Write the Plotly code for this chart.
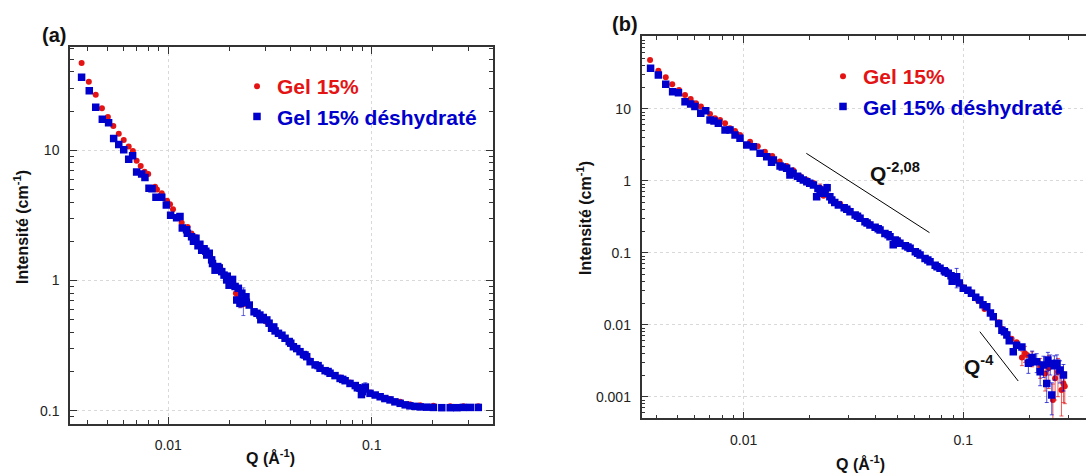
import plotly.graph_objects as go

# ---------------- data : panel (a) ----------------
a_red_q = [0.00375, 0.00407, 0.00440, 0.00472, 0.00505, 0.00537, 0.00571, 0.00604, 0.00639, 0.00670,
           0.00699, 0.00732, 0.00765, 0.00797, 0.00861, 0.0088, 0.00929, 0.00986, 0.0102, 0.01055,
           0.0111, 0.01164, 0.01245, 0.0130, 0.0137, 0.0146, 0.0155, 0.0163, 0.0172, 0.0183,
           0.0194, 0.0205, 0.0215, 0.0221, 0.0228, 0.0236, 0.0250, 0.0264, 0.0282, 0.0305,
           0.0322, 0.0348, 0.0375, 0.0412, 0.0444, 0.0479, 0.0498, 0.0557, 0.0624, 0.0699,
           0.0782, 0.0876, 0.0981, 0.110, 0.123, 0.138, 0.154, 0.173, 0.201, 0.243, 0.282, 0.334]
a_red_i = [46.8, 33.6, 26.7, 21.0, 18.0, 15.4, 13.4, 12.0, 10.7, 9.88,
           8.32, 7.57, 6.85, 6.58, 5.25, 5.0, 4.68, 4.10, 3.85, 3.52,
           3.1, 2.78, 2.58, 2.3, 2.15, 1.78, 1.62, 1.47, 1.30, 1.20,
           1.04, 0.96, 0.80, 0.74, 0.70, 0.66, 0.65, 0.57, 0.52, 0.48,
           0.43, 0.39, 0.36, 0.315, 0.287, 0.262, 0.243, 0.215, 0.197, 0.180,
           0.165, 0.151, 0.138, 0.130, 0.123, 0.117, 0.112, 0.110, 0.109, 0.108, 0.108, 0.108]

a_blue_q = [0.00375, 0.00409, 0.00440, 0.00474, 0.00509, 0.00539, 0.00571, 0.00604, 0.00639, 0.00668,
            0.00699, 0.00740, 0.00768, 0.00804, 0.00832, 0.00870, 0.00929, 0.00978, 0.01027, 0.01099,
            0.01142, 0.01172, 0.01241, 0.01302, 0.01368, 0.0140, 0.0146, 0.0150, 0.01545, 0.0159,
            0.01634, 0.01698, 0.0175, 0.01832, 0.0188, 0.01937, 0.0201, 0.0207, 0.0213, 0.0217,
            0.0221, 0.0225, 0.0230, 0.0234, 0.0241, 0.0250, 0.0264, 0.0273, 0.0282, 0.0293,
            0.0305, 0.0313, 0.0322, 0.0335, 0.0348, 0.0362, 0.0375, 0.0393, 0.0412, 0.0428,
            0.0444, 0.0462, 0.0479, 0.0498, 0.0527, 0.0557, 0.0590, 0.0624, 0.0660, 0.0699,
            0.0740, 0.0782, 0.0830, 0.0876, 0.0900, 0.0930, 0.0981, 0.104, 0.110, 0.116,
            0.123, 0.130, 0.138, 0.146, 0.154, 0.163, 0.173, 0.186, 0.201, 0.221,
            0.243, 0.262, 0.282, 0.305, 0.334,
            0.0123, 0.0133, 0.0143, 0.0153, 0.0165, 0.0178, 0.0195, 0.0199, 0.0242, 0.0285,
            0.0330, 0.0400, 0.0470, 0.0545, 0.0610, 0.0720, 0.0850, 0.0910, 0.0890]
a_blue_i = [36.4, 28.7, 21.4, 17.3, 16.3, 12.3, 11.1, 10.1, 8.53, 9.10,
            6.81, 6.58, 6.17, 5.11, 5.07, 4.36, 4.36, 3.80, 3.17, 3.03,
            3.10, 2.53, 2.31, 2.17, 2.11, 1.85, 1.71, 1.75, 1.57, 1.62,
            1.44, 1.20, 1.28, 1.17, 1.10, 1.01, 0.953, 1.02, 0.90, 0.708,
            0.871, 0.668, 0.80, 0.708, 0.75, 0.648, 0.575, 0.56, 0.543, 0.52,
            0.498, 0.47, 0.430, 0.41, 0.393, 0.38, 0.360, 0.34, 0.310, 0.30,
            0.284, 0.27, 0.260, 0.238, 0.225, 0.212, 0.203, 0.194, 0.186, 0.177,
            0.170, 0.162, 0.156, 0.149, 0.140, 0.152, 0.136, 0.132, 0.128, 0.124,
            0.121, 0.117, 0.114, 0.111, 0.109, 0.108, 0.107, 0.1065, 0.106, 0.1055,
            0.1055, 0.1055, 0.106, 0.106, 0.106,
            2.45, 2.0, 1.9, 1.68, 1.35, 1.25, 1.08, 0.92, 0.68, 0.50,
            0.44, 0.33, 0.268, 0.222, 0.200, 0.174, 0.150, 0.147, 0.133]

a_red_err = {0.0215: 0.05, 0.0228: 0.08}
a_blue_err = {0.0225: 0.05, 0.0234: 0.17, 0.0930: 0.012}

# ---------------- data : panel (b) ----------------
b_red_q = [0.00375, 0.00409, 0.00442, 0.00473, 0.00508, 0.00541, 0.00574, 0.00607, 0.00639, 0.00674,
           0.00703, 0.00741, 0.00781, 0.00823, 0.00867, 0.00914, 0.00963, 0.0107, 0.0116, 0.0125,
           0.0135, 0.0146, 0.0157, 0.0168, 0.0181, 0.0194, 0.0208, 0.0223, 0.0231, 0.0247,
           0.0275, 0.0305, 0.0339, 0.0376, 0.0418, 0.0464, 0.0515, 0.0573, 0.0636, 0.0706,
           0.0784, 0.0855, 0.0933, 0.100, 0.109, 0.117, 0.125, 0.137, 0.145, 0.150,
           0.158, 0.166, 0.175, 0.185, 0.191, 0.195, 0.206, 0.216, 0.224, 0.236,
           0.245, 0.256, 0.262, 0.270, 0.280, 0.286, 0.290]
b_red_i = [47.4, 33.7, 27.3, 21.8, 18.2, 15.5, 13.6, 11.9, 10.7, 9.38,
           8.44, 7.36, 6.97, 6.27, 5.35, 4.90, 4.31, 3.48, 3.0, 2.53,
           2.2, 1.85, 1.6, 1.4, 1.15, 1.02, 0.93, 0.80, 0.62, 0.62,
           0.48, 0.385, 0.31, 0.25, 0.212, 0.172, 0.140, 0.118, 0.095, 0.077,
           0.062, 0.053, 0.047, 0.033, 0.028, 0.0215, 0.0165, 0.0133, 0.0108, 0.0088,
           0.0075, 0.0064, 0.0057, 0.0035, 0.0040, 0.0038, 0.0034, 0.0030, 0.0026, 0.0021,
           0.0025, 0.00090, 0.0018, 0.0022, 0.00124, 0.00153, 0.0014]

b_blue_q = [0.00377, 0.00409, 0.00442, 0.00475, 0.00505, 0.00541, 0.00574, 0.00600, 0.00638, 0.00672,
            0.00703, 0.00733, 0.00767, 0.00823, 0.00867, 0.00914, 0.00963, 0.01033, 0.01107, 0.01188,
            0.01274, 0.01366, 0.01465, 0.0157, 0.01625, 0.0168, 0.0181, 0.0187, 0.0194, 0.0208,
            0.0215, 0.0223, 0.0231, 0.0240, 0.0247, 0.0252, 0.0270, 0.0287, 0.0305, 0.0322,
            0.0339, 0.0357, 0.0376, 0.0397, 0.0418, 0.0440, 0.0464, 0.0480, 0.0490, 0.0515,
            0.0545, 0.0573, 0.0605, 0.0636, 0.0670, 0.0706, 0.0745, 0.0784, 0.0820, 0.0855,
            0.0880, 0.0901, 0.0933, 0.0960, 0.100, 0.105, 0.109, 0.114, 0.119, 0.123,
            0.128, 0.133, 0.137, 0.145, 0.150, 0.154, 0.158, 0.162, 0.169, 0.175,
            0.185, 0.198, 0.201, 0.206, 0.216, 0.224, 0.232, 0.240, 0.243, 0.249,
            0.253, 0.260, 0.267, 0.276, 0.286,
            0.0134, 0.0150, 0.0163, 0.0176, 0.0200, 0.0218, 0.0235, 0.0260, 0.0295, 0.0330,
            0.0365, 0.0410, 0.0455, 0.0500, 0.0560, 0.0620, 0.0690, 0.0760, 0.0830, 0.0915, 0.0890]
b_blue_i = [36.4, 29.4, 21.8, 17.2, 16.7, 12.5, 11.6, 10.7, 8.63, 9.38,
            6.97, 6.74, 6.27, 5.06, 5.06, 4.31, 3.88, 3.13, 2.97, 2.40,
            2.15, 1.94, 1.60, 1.49, 1.20, 1.27, 1.08, 1.02, 0.968, 0.871,
            0.600, 0.743, 0.668, 0.80, 0.600, 0.540, 0.459, 0.42, 0.371, 0.335,
            0.301, 0.27, 0.243, 0.225, 0.207, 0.185, 0.167, 0.129, 0.150, 0.135,
            0.125, 0.115, 0.103, 0.0929, 0.083, 0.0750, 0.067, 0.0607, 0.056, 0.0517,
            0.048, 0.0418, 0.0465, 0.038, 0.0321, 0.030, 0.0273, 0.024, 0.0220, 0.019,
            0.0178, 0.0145, 0.0129, 0.0104, 0.0084, 0.0080, 0.0072, 0.0060, 0.00421, 0.0052,
            0.0049, 0.00291, 0.0030, 0.0035, 0.00306, 0.00222, 0.00275, 0.00153, 0.00323, 0.0029,
            0.00106, 0.0027, 0.00291, 0.00235, 0.00200,
            1.8, 1.55, 1.35, 1.15, 0.92, 0.78, 0.72, 0.50, 0.40, 0.32,
            0.258, 0.215, 0.178, 0.145, 0.120, 0.098, 0.079, 0.064, 0.054, 0.044, 0.040]

b_red_err = {0.0223: 0.1, 0.185: 0.0008, 0.191: 0.001, 0.206: 0.0008, 0.224: 0.0008, 0.236: 0.0009,
             0.245: 0.0012, 0.256: 0.0006, 0.262: 0.0009, 0.270: 0.0012, 0.280: 0.0007, 0.286: 0.0007,
             0.290: 0.0006}
b_blue_err = {0.0240: 0.09, 0.0933: 0.014, 0.198: 0.0008, 0.206: 0.0008, 0.216: 0.0009, 0.224: 0.0008,
              0.232: 0.0009, 0.240: 0.0007, 0.243: 0.0009, 0.249: 0.0009, 0.253: 0.0005, 0.260: 0.0010,
              0.267: 0.0009, 0.276: 0.0008, 0.286: 0.0008}

# slope guide lines (panel b)
slope1_q = [0.0193, 0.0702]
slope1_i = [2.40, 0.190]
slope2_q = [0.119, 0.178]
slope2_i = [0.0080, 0.00165]

x_tick_vals = [0.01, 0.1]
x_tick_text = ["0.01", "0.1"]
a_y_tick_vals = [0.1, 1, 10]
a_y_tick_text = ["0.1", "1", "10"]
b_y_tick_vals = [0.001, 0.01, 0.1, 1, 10]
b_y_tick_text = ["0.001", "0.01", "0.1", "1", "10"]

RED = "#e41414"
BLUE = "#0000cc"
FONT = "Liberation Sans, Arial, sans-serif"
W, H = 1086, 473


def err_list(qs, errs):
    return [errs.get(q, 0) for q in qs]


def minor_vals(lo_exp, hi_exp):
    vals = []
    for e in range(lo_exp, hi_exp + 1):
        for m in range(2, 10):
            vals.append(m * 10 ** e)
    return vals


def add_series(q, i, errs, color, symbol, size, name, xa, ya, leg, ecolor):
    fig.add_trace(go.Scatter(
        x=q, y=i, mode="markers", name=name, xaxis=xa, yaxis=ya, legend=leg,
        marker=dict(color=color, symbol=symbol, size=size, line=dict(width=0)),
        error_y=dict(type="data", array=err_list(q, errs), visible=True,
                     color=ecolor, thickness=1, width=2),
    ))


fig = go.Figure()
red_name = "<b><span style='color:%s'>Gel 15%%</span></b>" % RED
blue_name = "<b><span style='color:%s'>Gel 15%% déshydraté</span></b>" % BLUE
add_series(a_red_q, a_red_i, a_red_err, RED, "circle", 6, red_name, "x", "y", "legend", "rgba(228,20,20,0.6)")
add_series(a_blue_q, a_blue_i, a_blue_err, BLUE, "square", 7.5, blue_name, "x", "y", "legend", "rgba(0,0,204,0.6)")
add_series(b_red_q, b_red_i, b_red_err, RED, "circle", 6, red_name, "x2", "y2", "legend2", "rgba(228,20,20,0.7)")
add_series(b_blue_q, b_blue_i, b_blue_err, BLUE, "square", 7.5, blue_name, "x2", "y2", "legend2", "rgba(0,0,204,0.7)")

for sq, si in [(slope1_q, slope1_i), (slope2_q, slope2_i)]:
    fig.add_trace(go.Scatter(x=sq, y=si, mode="lines", xaxis="x2", yaxis="y2",
                             line=dict(color="black", width=1), showlegend=False, hoverinfo="skip"))

LINE = "#333333"
common = dict(type="log", showline=True, linecolor=LINE, linewidth=1.5,
              ticks="inside", ticklen=7, tickwidth=1, tickcolor=LINE,
              showgrid=True, gridcolor="#d9d9d9", griddash="dot", gridwidth=1,
              zeroline=False, tickmode="array",
              tickfont=dict(family=FONT, size=14, color="#222"))


def minor(lo, hi):
    return dict(ticks="inside", ticklen=4, tickwidth=1, tickcolor=LINE, showgrid=False,
                tickmode="array", tickvals=minor_vals(lo, hi))


fig.update_layout(
    width=W, height=H, autosize=False,
    margin=dict(l=0, r=0, t=0, b=0),
    paper_bgcolor="white", plot_bgcolor="white",
    font=dict(family=FONT, color="#222"),
    xaxis=dict(common, domain=[70 / W, 493 / W], range=[-2.483, -0.404], anchor="y",
               tickvals=x_tick_vals, ticktext=x_tick_text, mirror="allticks",
               ticklabelstandoff=7, minor=minor(-3, -1)),
    yaxis=dict(common, domain=[1 - 424 / H, 1 - 47.3 / H], range=[-1.102, 1.791], anchor="x",
               tickvals=a_y_tick_vals, ticktext=a_y_tick_text, mirror="allticks",
               ticklabelstandoff=6, minor=minor(-2, 1)),
    xaxis2=dict(common, domain=[641.5 / W, 1.0], range=[-2.465, -0.441], anchor="y2",
                tickvals=x_tick_vals, ticktext=x_tick_text, mirror="allticks",
                ticklabelstandoff=8, minor=minor(-3, -1)),
    yaxis2=dict(common, domain=[1 - 418.3 / H, 1 - 36 / H], range=[-3.30, 2.01], anchor="x2",
                tickvals=b_y_tick_vals, ticktext=b_y_tick_text, mirror=False,
                ticklabelstandoff=6, minor=minor(-4, 2)),
    legend=dict(x=237 / W, y=1 - 66 / H, xanchor="left", yanchor="top",
                bgcolor="rgba(0,0,0,0)", borderwidth=0,
                font=dict(family=FONT, size=21), itemclick=False),
    legend2=dict(x=823 / W, y=1 - 56 / H, xanchor="left", yanchor="top",
                 bgcolor="rgba(0,0,0,0)", borderwidth=0,
                 font=dict(family=FONT, size=21), itemclick=False),
    showlegend=True,
)


def ann(text, px, py, size, angle=0, xanchor="center", yanchor="middle"):
    fig.add_annotation(text=text, x=px / W, y=1 - py / H, xref="paper", yref="paper",
                       showarrow=False, textangle=angle, xanchor=xanchor, yanchor=yanchor,
                       font=dict(family=FONT, size=size, color="#111"))


ann("<b>(a)</b>", 54, 35, 20)
ann("<b>(b)</b>", 625, 24, 20)
ann("<b>Q (Å<sup>-1</sup>)</b>", 270, 457, 16)
ann("<b>Q (Å<sup>-1</sup>)</b>", 860, 463, 16)
ann("<b>Intensité (cm<sup>-1</sup>)</b>", 21, 227, 16, angle=-90)
ann("<b>Intensité (cm<sup>-1</sup>)</b>", 584, 218, 16, angle=-90)
ann("<b>Q<sup>-2,08</sup></b>", 895, 172, 21)
ann("<b>Q<sup>-4</sup></b>", 979, 365, 21)

fig.write_html("out.html", config={"displayModeBar": False},
               post_script="document.body.style.margin='0';document.body.style.overflow='hidden';")
